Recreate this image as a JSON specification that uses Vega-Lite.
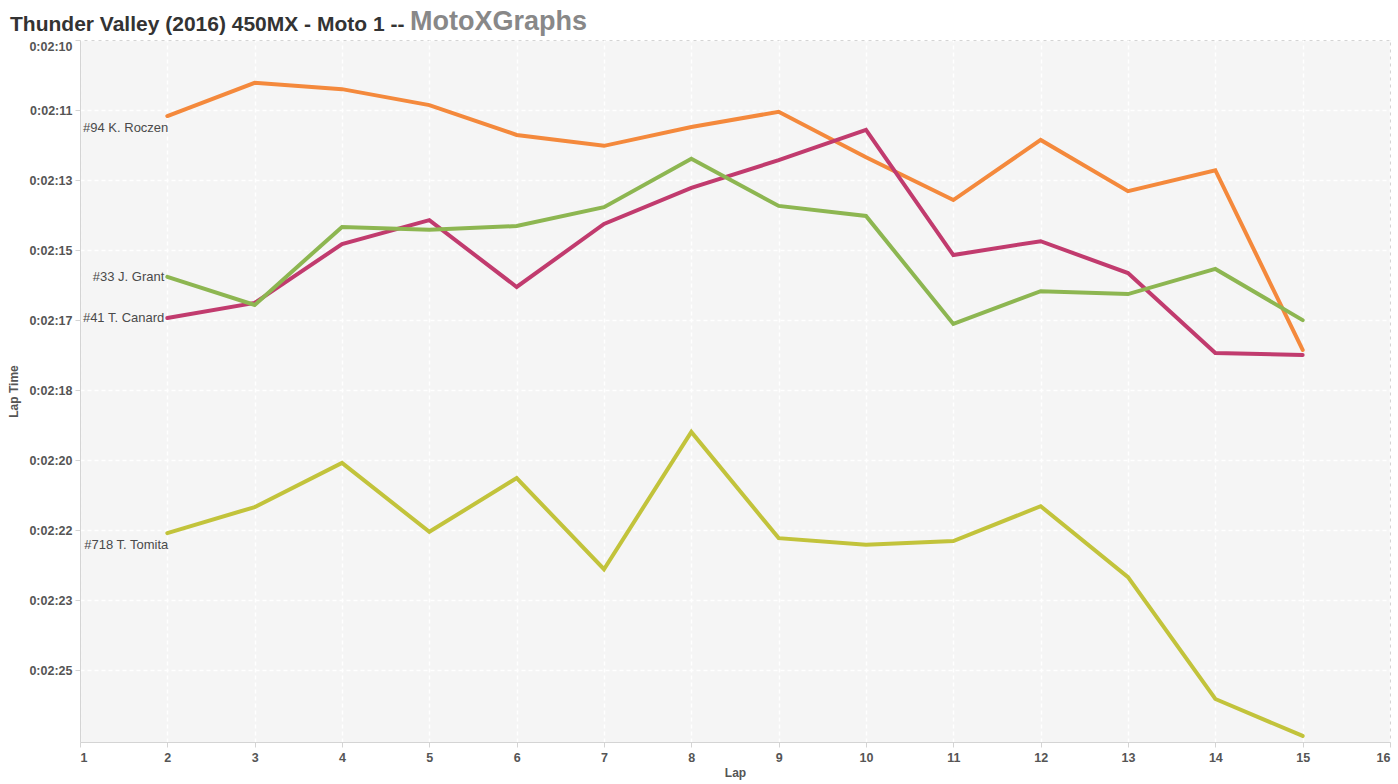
{
  "$schema": "https://vega.github.io/schema/vega-lite/v6.json",
  "autosize": {"type": "none"},
  "width": 1310,
  "height": 702,
  "padding": {"left": 80, "top": 40, "right": 8, "bottom": 42},
  "background": "white",
  "title": {
    "text": "Thunder Valley (2016) 450MX - Moto 1 --",
    "subtitle": "\u2800\u2800\u2800\u2800\u2800\u2800\u2800\u2800\u2800\u2800\u2800\u2800\u2800\u2800\u2800\u2800\u2800\u2800\u2800\u2800MotoXGraphs",
    "anchor": "start",
    "frame": "group",
    "dx": -70,
    "offset": -1,
    "font": "Liberation Sans",
    "fontSize": 21,
    "fontWeight": "bold",
    "color": "#333333",
    "subtitleFont": "Liberation Sans",
    "subtitleFontSize": 27,
    "subtitleFontWeight": "bold",
    "subtitleColor": "#888888",
    "subtitlePadding": -26
  },
  "config": {
    "view": {"fill": "#f5f5f5", "stroke": "#d4d4d4", "strokeWidth": 1},
    "axis": {
      "labelFont": "Liberation Sans",
      "labelFontSize": 12.5,
      "labelFontWeight": "bold",
      "labelColor": "#555555",
      "titleFont": "Liberation Sans",
      "titleFontSize": 12,
      "titleFontWeight": "bold",
      "titleColor": "#555555",
      "domainColor": "#d4d4d4",
      "tickColor": "#d4d4d4",
      "tickSize": 5,
      "gridColor": "#ffffff",
      "gridDash": [4, 3],
      "gridWidth": 1.5,
      "gridOpacity": 1
    }
  },
  "data": {
    "values": [
      {"rider": "#94 K. Roczen", "lap": 2, "time": 131.81},
      {"rider": "#94 K. Roczen", "lap": 3, "time": 131.02},
      {"rider": "#94 K. Roczen", "lap": 4, "time": 131.17},
      {"rider": "#94 K. Roczen", "lap": 5, "time": 131.55},
      {"rider": "#94 K. Roczen", "lap": 6, "time": 132.26},
      {"rider": "#94 K. Roczen", "lap": 7, "time": 132.52},
      {"rider": "#94 K. Roczen", "lap": 8, "time": 132.07},
      {"rider": "#94 K. Roczen", "lap": 9, "time": 131.71},
      {"rider": "#94 K. Roczen", "lap": 10, "time": 132.79},
      {"rider": "#94 K. Roczen", "lap": 11, "time": 133.81},
      {"rider": "#94 K. Roczen", "lap": 12, "time": 132.38},
      {"rider": "#94 K. Roczen", "lap": 13, "time": 133.6},
      {"rider": "#94 K. Roczen", "lap": 14, "time": 133.1},
      {"rider": "#94 K. Roczen", "lap": 15, "time": 137.38},
      {"rider": "#41 T. Canard", "lap": 2, "time": 136.62},
      {"rider": "#41 T. Canard", "lap": 3, "time": 136.26},
      {"rider": "#41 T. Canard", "lap": 4, "time": 134.86},
      {"rider": "#41 T. Canard", "lap": 5, "time": 134.29},
      {"rider": "#41 T. Canard", "lap": 6, "time": 135.88},
      {"rider": "#41 T. Canard", "lap": 7, "time": 134.38},
      {"rider": "#41 T. Canard", "lap": 8, "time": 133.52},
      {"rider": "#41 T. Canard", "lap": 9, "time": 132.86},
      {"rider": "#41 T. Canard", "lap": 10, "time": 132.14},
      {"rider": "#41 T. Canard", "lap": 11, "time": 135.12},
      {"rider": "#41 T. Canard", "lap": 12, "time": 134.79},
      {"rider": "#41 T. Canard", "lap": 13, "time": 135.55},
      {"rider": "#41 T. Canard", "lap": 14, "time": 137.45},
      {"rider": "#41 T. Canard", "lap": 15, "time": 137.5},
      {"rider": "#33 J. Grant", "lap": 2, "time": 135.64},
      {"rider": "#33 J. Grant", "lap": 3, "time": 136.31},
      {"rider": "#33 J. Grant", "lap": 4, "time": 134.45},
      {"rider": "#33 J. Grant", "lap": 5, "time": 134.52},
      {"rider": "#33 J. Grant", "lap": 6, "time": 134.43},
      {"rider": "#33 J. Grant", "lap": 7, "time": 133.98},
      {"rider": "#33 J. Grant", "lap": 8, "time": 132.83},
      {"rider": "#33 J. Grant", "lap": 9, "time": 133.95},
      {"rider": "#33 J. Grant", "lap": 10, "time": 134.19},
      {"rider": "#33 J. Grant", "lap": 11, "time": 136.76},
      {"rider": "#33 J. Grant", "lap": 12, "time": 135.98},
      {"rider": "#33 J. Grant", "lap": 13, "time": 136.05},
      {"rider": "#33 J. Grant", "lap": 14, "time": 135.45},
      {"rider": "#33 J. Grant", "lap": 15, "time": 136.67},
      {"rider": "#718 T. Tomita", "lap": 2, "time": 141.74},
      {"rider": "#718 T. Tomita", "lap": 3, "time": 141.12},
      {"rider": "#718 T. Tomita", "lap": 4, "time": 140.07},
      {"rider": "#718 T. Tomita", "lap": 5, "time": 141.71},
      {"rider": "#718 T. Tomita", "lap": 6, "time": 140.43},
      {"rider": "#718 T. Tomita", "lap": 7, "time": 142.6},
      {"rider": "#718 T. Tomita", "lap": 8, "time": 139.33},
      {"rider": "#718 T. Tomita", "lap": 9, "time": 141.86},
      {"rider": "#718 T. Tomita", "lap": 10, "time": 142.02},
      {"rider": "#718 T. Tomita", "lap": 11, "time": 141.93},
      {"rider": "#718 T. Tomita", "lap": 12, "time": 141.1},
      {"rider": "#718 T. Tomita", "lap": 13, "time": 142.79},
      {"rider": "#718 T. Tomita", "lap": 14, "time": 145.69},
      {"rider": "#718 T. Tomita", "lap": 15, "time": 146.57}
    ]
  },
  "encoding": {
    "x": {
      "field": "lap",
      "type": "quantitative",
      "scale": {"domain": [1, 16], "nice": false, "zero": false},
      "axis": {
        "title": "Lap",
        "values": [1,2,3,4,5,6,7,8,9,10,11,12,13,14,15,16],
        "labelFlush": true,
        "labelPadding": 4,
        "titlePadding": 4,
        "grid": true
      }
    },
    "y": {
      "field": "time",
      "type": "quantitative",
      "scale": {"domain": [130, 146.714], "nice": false, "zero": false, "reverse": true},
      "axis": {
        "title": "Lap Time",
        "values": [130, 131.6667, 133.3333, 135, 136.6667, 138.3333, 140, 141.6667, 143.3333, 145],
        "labelExpr": "['0:02:10','0:02:11','0:02:13','0:02:15','0:02:17','0:02:18','0:02:20','0:02:22','0:02:23','0:02:25'][round((datum.value-130)*0.6)]",
        "labelFlush": true,
        "labelPadding": 3,
        "titlePadding": 8,
        "grid": true
      }
    }
  },
  "layer": [
    {
      "mark": {"type": "line", "strokeWidth": 4, "strokeCap": "round", "strokeJoin": "miter"},
      "encoding": {
        "color": {
          "field": "rider",
          "type": "nominal",
          "scale": {
            "domain": ["#94 K. Roczen", "#41 T. Canard", "#33 J. Grant", "#718 T. Tomita"],
            "range": ["#F4893C", "#C13B6E", "#8DB651", "#C2C33B"]
          },
          "legend": null
        }
      }
    },
    {
      "transform": [{"filter": "datum.lap == 2 && (datum.rider == '#41 T. Canard' || datum.rider == '#33 J. Grant')"}],
      "mark": {"type": "text", "align": "right", "baseline": "middle", "dx": -3, "font": "Liberation Sans", "fontSize": 13, "color": "#4a4a4a"},
      "encoding": {"text": {"field": "rider"}}
    },
    {
      "transform": [{"filter": "datum.lap == 2 && (datum.rider == '#94 K. Roczen' || datum.rider == '#718 T. Tomita')"}],
      "mark": {"type": "text", "align": "right", "baseline": "middle", "dx": 1, "dy": 12, "font": "Liberation Sans", "fontSize": 13, "color": "#4a4a4a"},
      "encoding": {"text": {"field": "rider"}}
    }
  ]
}
